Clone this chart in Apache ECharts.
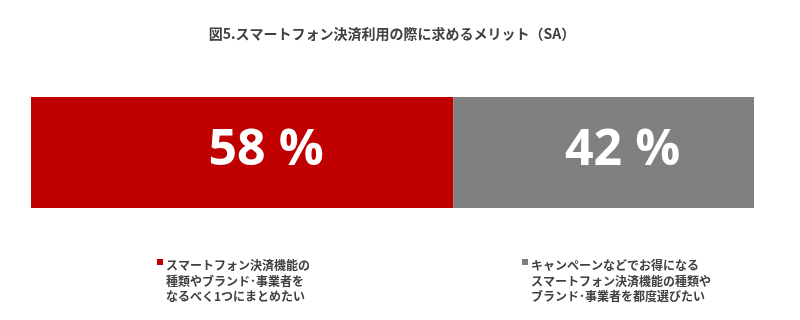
<!DOCTYPE html>
<html>
<head>
<meta charset="utf-8">
<script src="https://cdn.jsdelivr.net/npm/echarts@6/dist/echarts.min.js"></script>
<style>
html,body{margin:0;padding:0;background:#fff;}
#c{width:800px;height:320px;}
</style>
</head>
<body>
<div id="c"></div>
<script>
const titleText = '図5.スマートフォン決済利用の際に求めるメリット（SA）';
const categories = ['全体'];
const seriesNames = [
  'スマートフォン決済機能の\n種類やブランド･事業者を\nなるべく1つにまとめたい',
  'キャンペーンなどでお得になる\nスマートフォン決済機能の種類や\nブランド･事業者を都度選びたい'
];
const seriesValues = [[58.4], [41.6]];
const colors = ['#C00000', '#808080'];

const chart = echarts.init(document.getElementById('c'), null, {renderer: 'canvas'});
const jp = '"Noto Sans CJK JP", "Noto Sans", sans-serif';

const series = seriesNames.map((n, i) => ({
  name: n,
  type: 'bar',
  stack: 'total',
  barWidth: '100%',
  data: seriesValues[i],
  itemStyle: {color: colors[i]},
  label: {
    show: true,
    position: 'inside',
    offset: [i === 0 ? 24 : 19, -2],
    formatter: p => Math.round(p.value) + ' %',
    color: '#ffffff',
    fontFamily: '"Open Sans", sans-serif',
    fontWeight: 700,
    fontSize: 50
  }
}));

const legendX = [157, 522];
const graphic = seriesNames.map((n, i) => ({
  type: 'group',
  left: legendX[i],
  top: 258,
  children: [
    {type: 'rect', shape: {x: 0, y: 1, width: 6, height: 6}, style: {fill: colors[i]}},
    {type: 'text', x: 9, y: 0, style: {
      text: n, fill: '#404040', font: 'bold 12px ' + jp, lineHeight: 15.5
    }}
  ]
}));

chart.setOption({
  animation: false,
  title: {
    text: titleText,
    left: 387,
    top: 22,
    textAlign: 'center',
    textStyle: {fontFamily: jp, fontWeight: 'bold', fontSize: 14, color: '#404040'}
  },
  grid: {left: 31, right: 46, top: 97, bottom: 112},
  xAxis: {type: 'value', min: 0, max: 100, show: false},
  yAxis: {type: 'category', data: categories, show: false},
  series: series,
  graphic: graphic
});
</script>
</body>
</html>
